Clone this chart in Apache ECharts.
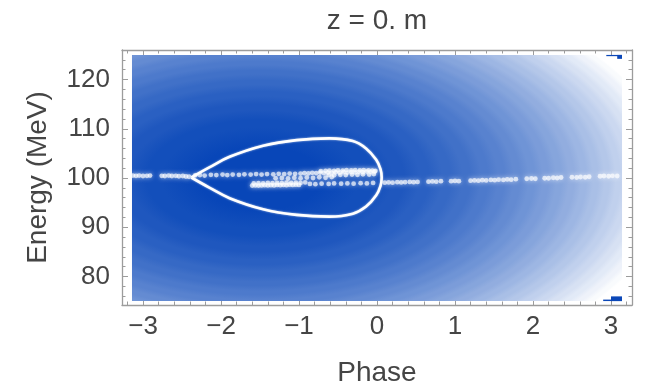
<!DOCTYPE html>
<html><head><meta charset="utf-8">
<script src="https://cdn.jsdelivr.net/npm/echarts@6/dist/echarts.min.js"></script>
<style>html,body{margin:0;padding:0;background:#fff}#c{width:645px;height:388px}</style>
</head><body><div id="c"></div>
<script>
// ---------- data ----------
const titleText = 'z = 0. m';
const xName = 'Phase';
const yName = 'Energy (MeV)';
const phaseRange = [-Math.PI, Math.PI];
const energyRange = [75, 125];
const xTicks = [-3, -2, -1, 0, 1, 2, 3];
const yTicks = [80, 90, 100, 110, 120];

// separatrix: cusp -> upper branch -> right end -> lower branch -> cusp
const sepPhase = [-2.38, -2.15, -1.89, -1.46, -1.03, -0.61, -0.31, -0.14, -0.01, 0.045, 0.06,
                  0.045, -0.01, -0.14, -0.31, -0.61, -1.03, -1.46, -1.89, -2.15, -2.38];
const sepEnergy = [100.1, 102.15, 104.3, 106.55, 107.7, 108.05, 107.5, 106.0, 103.7, 101.8, 100.1,
                   98.4, 96.5, 94.2, 92.75, 92.15, 92.5, 93.65, 95.9, 98.05, 100.1];

// particles
const partPhase = [
  -3.13,-3.09,-3.05,-3.00,-2.95,-2.91,-2.76,-2.72,-2.67,-2.63,-2.58,-2.54,-2.49,-2.45,-2.41,
  -2.33,-2.27,-2.21,-2.13,-2.06,-1.98,-1.92,-1.85,-1.77,-1.70,-1.62,-1.55,-1.48,-1.41,-1.33,-1.26,-1.19,-1.12,-1.05,
  -0.98,-0.93,-0.88,-0.83,-0.78,-0.73,-0.68,-0.63,-0.58,-0.53,-0.48,-0.43,-0.38,-0.33,-0.28,-0.23,-0.18,-0.13,-0.08,-0.03,
  -0.72,-0.66,-0.61,-0.55,-0.50,-0.44,-0.39,-0.33,-0.28,-0.22,-0.17,-0.11,-0.06,-0.02,
  -0.62,-0.55,-0.47,-0.40,-0.32,-0.25,-0.18,-0.10,-0.04,
  -1.30,-1.22,-1.14,-1.06,-0.98,-0.90,-0.82,-0.74,-0.66,-0.58,
  -1.60,-1.56,-1.52,-1.48,-1.44,-1.40,-1.36,-1.32,-1.28,-1.24,-1.20,-1.16,-1.12,-1.08,-1.04,-1.00,
  -1.58,-1.52,-1.46,-1.40,-1.34,-1.28,-1.22,-1.16,-1.10,-1.04,-0.98,-0.92,
  -0.86,-0.79,-0.71,-0.62,-0.55,-0.46,-0.38,-0.30,-0.21,-0.13,-0.05,
  0.10,0.15,0.20,0.26,0.31,0.36,0.42,0.47,0.52,0.66,0.71,0.76,0.82,0.95,1.00,1.05,
  1.20,1.25,1.30,1.35,1.40,1.46,1.51,1.56,1.62,1.67,1.72,1.78,1.92,1.98,2.03,
  2.15,2.20,2.26,2.31,2.36,2.50,2.56,2.61,2.67,2.72,2.86,2.91,2.97,3.02,3.08
];
const partEnergy = [
  100.5,100.45,100.5,100.4,100.45,100.5,100.45,100.4,100.5,100.4,100.45,100.35,100.4,100.3,100.25,
  100.55,100.6,100.5,100.65,100.6,100.7,100.6,100.7,100.65,100.75,100.7,100.8,100.7,100.8,100.75,100.85,100.8,100.9,100.85,
  100.9,101.0,100.95,101.05,101.0,101.1,101.0,101.1,101.05,101.15,101.1,101.2,101.1,101.2,101.15,101.25,101.2,101.3,101.25,101.3,
  101.4,101.45,101.5,101.45,101.55,101.5,101.6,101.55,101.6,101.55,101.6,101.55,101.5,101.45,
  100.6,100.55,100.65,100.6,100.7,100.65,100.75,100.7,100.8,
  99.95,100.0,99.9,100.05,99.95,100.1,100.0,100.15,100.05,100.2,
  98.45,98.5,98.45,98.5,98.55,98.5,98.55,98.5,98.6,98.55,98.6,98.55,98.65,98.6,98.65,98.6,
  98.9,98.95,98.9,99.0,98.95,99.0,98.95,99.05,99.0,99.05,99.0,99.1,
  98.8,98.75,98.85,98.8,98.9,98.85,98.9,98.85,98.95,98.9,99.0,
  99.05,99.1,99.05,99.15,99.1,99.15,99.2,99.15,99.2,99.25,99.3,99.25,99.35,99.35,99.4,99.35,
  99.45,99.5,99.45,99.55,99.5,99.6,99.55,99.65,99.6,99.7,99.65,99.75,99.85,99.9,99.85,
  99.95,99.95,100.05,100.0,100.1,100.15,100.1,100.2,100.15,100.25,100.35,100.4,100.35,100.45,100.4
];

// small contour artifacts at right corners: [phase0, phase1, energy0, energy1]
const artifacts = [
  [2.94, Math.PI, 124.75, 125], [3.08, Math.PI, 124.2, 125],
  [2.90, Math.PI, 75, 75.3], [3.0, Math.PI, 75, 75.95]
];

// ---------- style ----------
const framePad = {x: 0.128, yTop: 1.0, yBottom: 0.8};
const bg = {centerPhase: -1.5, centerEnergy: 100, radiusPhase: 5.3, radiusEnergy: 43, bands: 22};
const darkBlue = [2, 66, 182];
const gray = '#9c9c9c';
const textColor = '#454545';
const font = 'Liberation Sans, Arial, sans-serif';

function shade(t) {
  t = Math.min(1, Math.max(0, t));
  return 'rgb(' + darkBlue.map(v => Math.round(v + (255 - v) * t)).join(',') + ')';
}
const stops = [];
for (let k = 0; k < bg.bands; k++) {
  const r0 = Math.sqrt(k / bg.bands), r1 = Math.sqrt((k + 1) / bg.bands);
  const e = (r1 - r0) * 0.3;
  const col = shade((k + 0.5) / bg.bands);
  stops.push({offset: k === 0 ? 0 : r0 + e, color: col});
  stops.push({offset: r1 - e, color: col});
}
stops.push({offset: 1, color: '#ffffff'});

const isTick = (v, list) => list.some(t => Math.abs(t - v) < 1e-6);
const fmtX = v => isTick(v, xTicks) ? (v < 0 ? '\u2212' + Math.abs(v) : String(v)) : '';
const fmtY = v => isTick(v, yTicks) ? String(v) : '';

const xMin = phaseRange[0] - framePad.x, xMax = phaseRange[1] + framePad.x;
const yMin = energyRange[0] - framePad.yBottom, yMax = energyRange[1] + framePad.yTop;

function axisBase(extra) {
  return Object.assign({
    type: 'value', scale: true,
    axisLine: {show: true, onZero: false, lineStyle: {color: gray, width: 1.3}},
    axisTick: {show: true, inside: true, length: 6, lineStyle: {color: gray, width: 1}},
    minorTick: {show: true, splitNumber: 5, length: 3.5, lineStyle: {color: gray, width: 1}},
    splitLine: {show: false}, minorSplitLine: {show: false}
  }, extra);
}
const labelStyle = {color: textColor, fontSize: 26, fontFamily: font};

const chart = echarts.init(document.getElementById('c'), null, {renderer: 'canvas'});
chart.setOption({
  animation: false,
  backgroundColor: '#ffffff',
  title: {
    text: titleText, left: 372, top: 2, textAlign: 'center',
    textStyle: {color: textColor, fontSize: 28, fontWeight: 'normal', fontFamily: font}
  },
  grid: {left: 122, right: 13, top: 50, bottom: 83, containLabel: false, outerBoundsMode: 'none'},
  xAxis: [
    axisBase({position: 'bottom', min: xMin, max: xMax, splitNumber: 6,
      name: xName, nameLocation: 'middle', nameGap: 54,
      nameTextStyle: {color: textColor, fontSize: 28, fontFamily: font},
      axisLabel: Object.assign({show: true, margin: 9, formatter: fmtX, showMinLabel: true, showMaxLabel: true}, labelStyle)}),
    axisBase({position: 'top', min: xMin, max: xMax, splitNumber: 6, axisLabel: {show: false}})
  ],
  yAxis: [
    axisBase({position: 'left', min: yMin, max: yMax, splitNumber: 5,
      name: yName, nameLocation: 'middle', nameGap: 70,
      nameTextStyle: {color: textColor, fontSize: 28, fontFamily: font},
      axisLabel: Object.assign({show: true, margin: 12, formatter: fmtY}, labelStyle)}),
    axisBase({position: 'right', min: yMin, max: yMax, splitNumber: 5, axisLabel: {show: false}})
  ],
  series: [
    {
      type: 'custom', name: 'field', silent: true, z: 1,
      xAxisIndex: 0, yAxisIndex: 0,
      data: [[phaseRange[0], phaseRange[1], energyRange[0], energyRange[1]]],
      encode: {x: [0, 1], y: [2, 3]},
      renderItem(params, api) {
        const p0 = api.coord([api.value(0), api.value(3)]);
        const p1 = api.coord([api.value(1), api.value(2)]);
        const c = api.coord([bg.centerPhase, bg.centerEnergy]);
        const rx = api.coord([bg.centerPhase + bg.radiusPhase, bg.centerEnergy])[0] - c[0];
        const ry = c[1] - api.coord([bg.centerPhase, bg.centerEnergy + bg.radiusEnergy])[1];
        const s = rx / ry;
        return {
          type: 'rect', x: c[0], y: c[1], scaleX: s, scaleY: 1,
          shape: {x: (p0[0] - c[0]) / s, y: p0[1] - c[1], width: (p1[0] - p0[0]) / s, height: p1[1] - p0[1]},
          style: {fill: new echarts.graphic.RadialGradient(0, 0, ry, stops, true)}
        };
      }
    },
    {
      type: 'custom', name: 'artifacts', silent: true, z: 2,
      xAxisIndex: 0, yAxisIndex: 0,
      data: artifacts,
      encode: {x: [0, 1], y: [2, 3]},
      renderItem(params, api) {
        const a = api.coord([api.value(0), api.value(3)]);
        const b = api.coord([api.value(1), api.value(2)]);
        return {type: 'rect', shape: {x: a[0], y: a[1], width: b[0] - a[0], height: b[1] - a[1]},
                style: {fill: '#0b47b8'}};
      }
    },
    {
      type: 'scatter', name: 'particles', silent: true, z: 3,
      data: partPhase.map((p, i) => [p, partEnergy[i]]),
      symbol: 'circle', symbolSize: 4.8,
      itemStyle: {color: 'rgba(255,255,255,0.85)', shadowBlur: 4, shadowColor: 'rgba(255,255,255,0.75)'}
    },
    {
      type: 'line', name: 'separatrix', silent: true, z: 4,
      data: sepPhase.map((p, i) => [p, sepEnergy[i]]),
      showSymbol: false, symbol: 'none', smooth: 0.4,
      lineStyle: {color: '#ffffff', width: 2.6, shadowBlur: 2, shadowColor: 'rgba(255,255,255,0.7)'}
    }
  ]
});
</script></body></html>
